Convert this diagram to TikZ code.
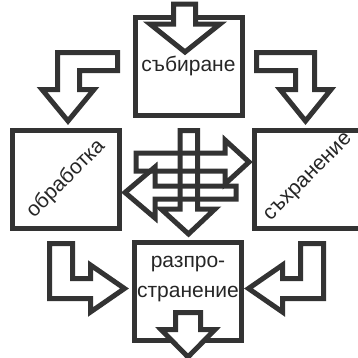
\documentclass[tikz,border=0pt]{standalone}
\usepackage{fontspec}
\setmainfont{Liberation Sans}
\begin{document}
\begin{tikzpicture}[x=1pt, y=-1pt, line width=5pt, line join=miter,
  every node/.style={font=\fontsize{21}{30}\selectfont, text=black!85},
  stagebox/.style={draw=black!80, minimum width=107pt, minimum height=98pt, inner sep=0pt},
  blockarrow/.style={draw=black!80, fill=white},
  crossarrow/.style={draw=black!80}]
  \useasboundingbox (0,0) rectangle (358,357);

  % The four stages
  \node[stagebox] (collect) at (188.5,66) {събиране};
  \node[stagebox] (process) at (66,179.5) {};
  \node[stagebox] (store) at (308,179.5) {};
  \node[stagebox] (spread) at (188,291.5) {};
  \node[rotate=45] (processlbl) at (66,179) {обработка};
  \node[rotate=45] (storelbl) at (309,178) {съхранение};
  \node[align=center] (spreadlbl) at (188,279) {разпро-\\странение};

  % Input and output
  \draw[blockarrow] (173.5,4) -- (195.5,4) -- (195.5,24) -- (220,24) -- (185,52)
    -- (150,24) -- (173.5,24) -- cycle;
  \draw[blockarrow] (175.5,312.5) -- (200.5,312.5) -- (200.5,329.5) -- (215,329.5)
    -- (188,357) -- (161,329.5) -- (175.5,329.5) -- cycle;

  % Bent arrows round the square
  \draw[blockarrow] (117.5,52.5) -- (57.5,52.5) -- (57.5,89.5) -- (42,89.5) -- (68,121)
    -- (94,89.5) -- (79.5,89.5) -- (79.5,70.5) -- (117.5,70.5) -- cycle;
  \draw[blockarrow] (256.5,52.5) -- (314.5,52.5) -- (314.5,89.5) -- (331,89.5) -- (305.5,121)
    -- (280,89.5) -- (295.5,89.5) -- (295.5,70.5) -- (256.5,70.5) -- cycle;
  \draw[blockarrow] (49.5,243.5) -- (72.5,243.5) -- (72.5,278.5) -- (90.5,278.5) -- (90.5,265)
    -- (124.5,288.5) -- (90.5,312) -- (90.5,298.5) -- (49.5,298.5) -- cycle;
  \draw[blockarrow] (323.5,243.5) -- (300.5,243.5) -- (300.5,278.5) -- (282.5,278.5) -- (282.5,265)
    -- (248.5,288.5) -- (282.5,312) -- (282.5,298.5) -- (323.5,298.5) -- cycle;

  % Crossing arrows in the middle
  \draw[crossarrow] (136,153) -- (225,153) -- (225,140) -- (249,162) -- (225,184)
    -- (225,171) -- (136,171) -- cycle;
  \draw[crossarrow] (236,186) -- (155,186) -- (155,167) -- (125,192.5) -- (155,218)
    -- (155,199) -- (236,199) -- cycle;
  \draw[crossarrow] (180,130.5) -- (197.5,130.5) -- (197.5,209) -- (215,209) -- (188.5,234)
    -- (161,209) -- (180,209) -- cycle;
\end{tikzpicture}
\end{document}
